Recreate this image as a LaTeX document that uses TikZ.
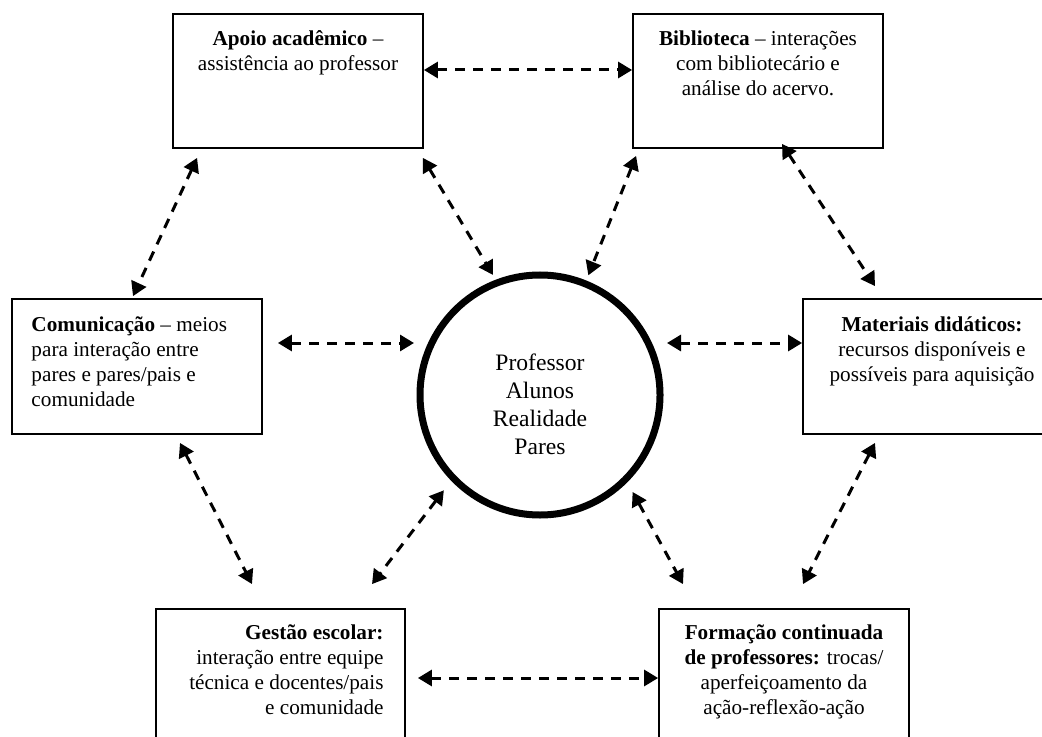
\documentclass[tikz,border=0pt]{standalone}
\usepackage{fontspec}
\setmainfont{Liberation Serif}
\usepackage{tikz}
\usetikzlibrary{arrows.meta}
\tikzset{
	caixa/.style={draw=black, line width=0.9pt, minimum width=125pt, minimum height=67pt, inner sep=0pt},
	texto/.style={inner sep=0pt, font=\fontsize{10.6}{12.6}\selectfont},
	seta/.style={black, line width=1.5pt, dash pattern=on 5pt off 4pt, {Triangle[length=7pt,width=8pt]}-{Triangle[length=7pt,width=8pt]}}
}

\begin{document}
\begin{tikzpicture}[x=0.5pt, y=-0.5pt]
				\useasboundingbox (0,0) rectangle (1042,737);
				\clip (0,0) rectangle (1042,737);
				\node[caixa] (apoio) at (298,81) {};
				\node[caixa] (biblioteca) at (758,81) {};
				\node[caixa, minimum height=67.5pt] (comunicacao) at (137,366.5) {};
				\node[caixa, minimum width=129pt, minimum height=67.5pt] (materiais) at (932,366.5) {};
				\node[caixa, minimum width=124.5pt, minimum height=80pt] (gestao) at (280.5,689) {};
				\node[caixa, minimum height=80pt] (formacao) at (784,689) {};
				\node[circle, draw=black, line width=3.5pt, minimum size=120pt, inner sep=0pt] (nucleo) at (540,395) {};
				\node[texto, anchor=north, align=center] (apoio-txt) at ([yshift=-8.5pt]apoio.north) {\textbf{Apoio acadêmico} --\\assistência ao professor};
				\node[texto, anchor=north, align=center] (biblioteca-txt) at ([yshift=-8.5pt]biblioteca.north) {\textbf{Biblioteca} -- interações\\com bibliotecário e\\análise do acervo.};
				\node[texto, anchor=north west, align=left] (comunicacao-txt) at ([xshift=10pt,yshift=-9pt]comunicacao.north west) {\textbf{Comunicação} -- meios\\para interação entre\\pares e pares/pais e\\comunidade};
				\node[texto, anchor=north, align=center] (materiais-txt) at ([yshift=-9pt]materiais.north) {\textbf{Materiais didáticos:}\\recursos disponíveis e\\possíveis para aquisição};
				\node[texto, anchor=north east, align=right] (gestao-txt) at ([xshift=-11pt,yshift=-8pt]gestao.north east) {\textbf{Gestão escolar:}\\interação entre equipe\\técnica e docentes/pais\\e comunidade};
				\node[texto, anchor=north, align=center] (formacao-txt) at ([yshift=-8pt]formacao.north) {\textbf{Formação continuada}\\\textbf{de professores:} trocas/\\aperfeiçoamento da\\ação-reflexão-ação};
				\node[inner sep=0pt, align=center, font=\fontsize{11.8}{14}\selectfont] (atores) at ([yshift=-4.5pt]nucleo.center) {Professor\\Alunos\\Realidade\\Pares};
				\coordinate (esq) at ([xshift=7.5pt,yshift=11.75pt]comunicacao.east);
				\coordinate (dir) at ([yshift=11.75pt]materiais.west);
				\draw[seta] ([yshift=5.5pt]apoio.east) -- ([yshift=5.5pt]biblioteca.west);
				\draw[seta] ([xshift=12.5pt,yshift=-4.5pt]apoio.south west) -- ([xshift=-2pt,yshift=1pt]comunicacao.north);
				\draw[seta, shorten >=2.8pt] ([xshift=-0.5pt,yshift=-4.5pt]apoio.south east) -- (nucleo.111.8);
				\draw[seta, shorten >=2.8pt] ([xshift=2pt,yshift=-3.5pt]biblioteca.south west) -- (nucleo.68.2);
				\draw[seta] ([xshift=12pt,yshift=2.5pt]biblioteca.south) -- ([xshift=-28.5pt,yshift=6pt]materiais.north);
				\draw[seta, shorten >=1.25pt] (esq) -- (esq -| nucleo.west);
				\draw[seta, shorten <=1.75pt] (dir -| nucleo.east) -- (dir);
				\draw[seta] ([xshift=21.5pt,yshift=-4pt]comunicacao.south) -- ([xshift=-14.25pt,yshift=12pt]gestao.north);
				\draw[seta, shorten <=6pt] (nucleo.224.4) -- ([xshift=45.75pt,yshift=12pt]gestao.north);
				\draw[seta, shorten <=5.5pt] (nucleo.-45) -- ([xshift=-50.5pt,yshift=12pt]formacao.north);
				\draw[seta] ([xshift=-28.5pt,yshift=-4pt]materiais.south) -- ([xshift=9.5pt,yshift=12pt]formacao.north);
				\draw[seta] ([xshift=6pt,yshift=5.5pt]gestao.east) -- ([yshift=5.5pt]formacao.west);
\end{tikzpicture}
\end{document}
